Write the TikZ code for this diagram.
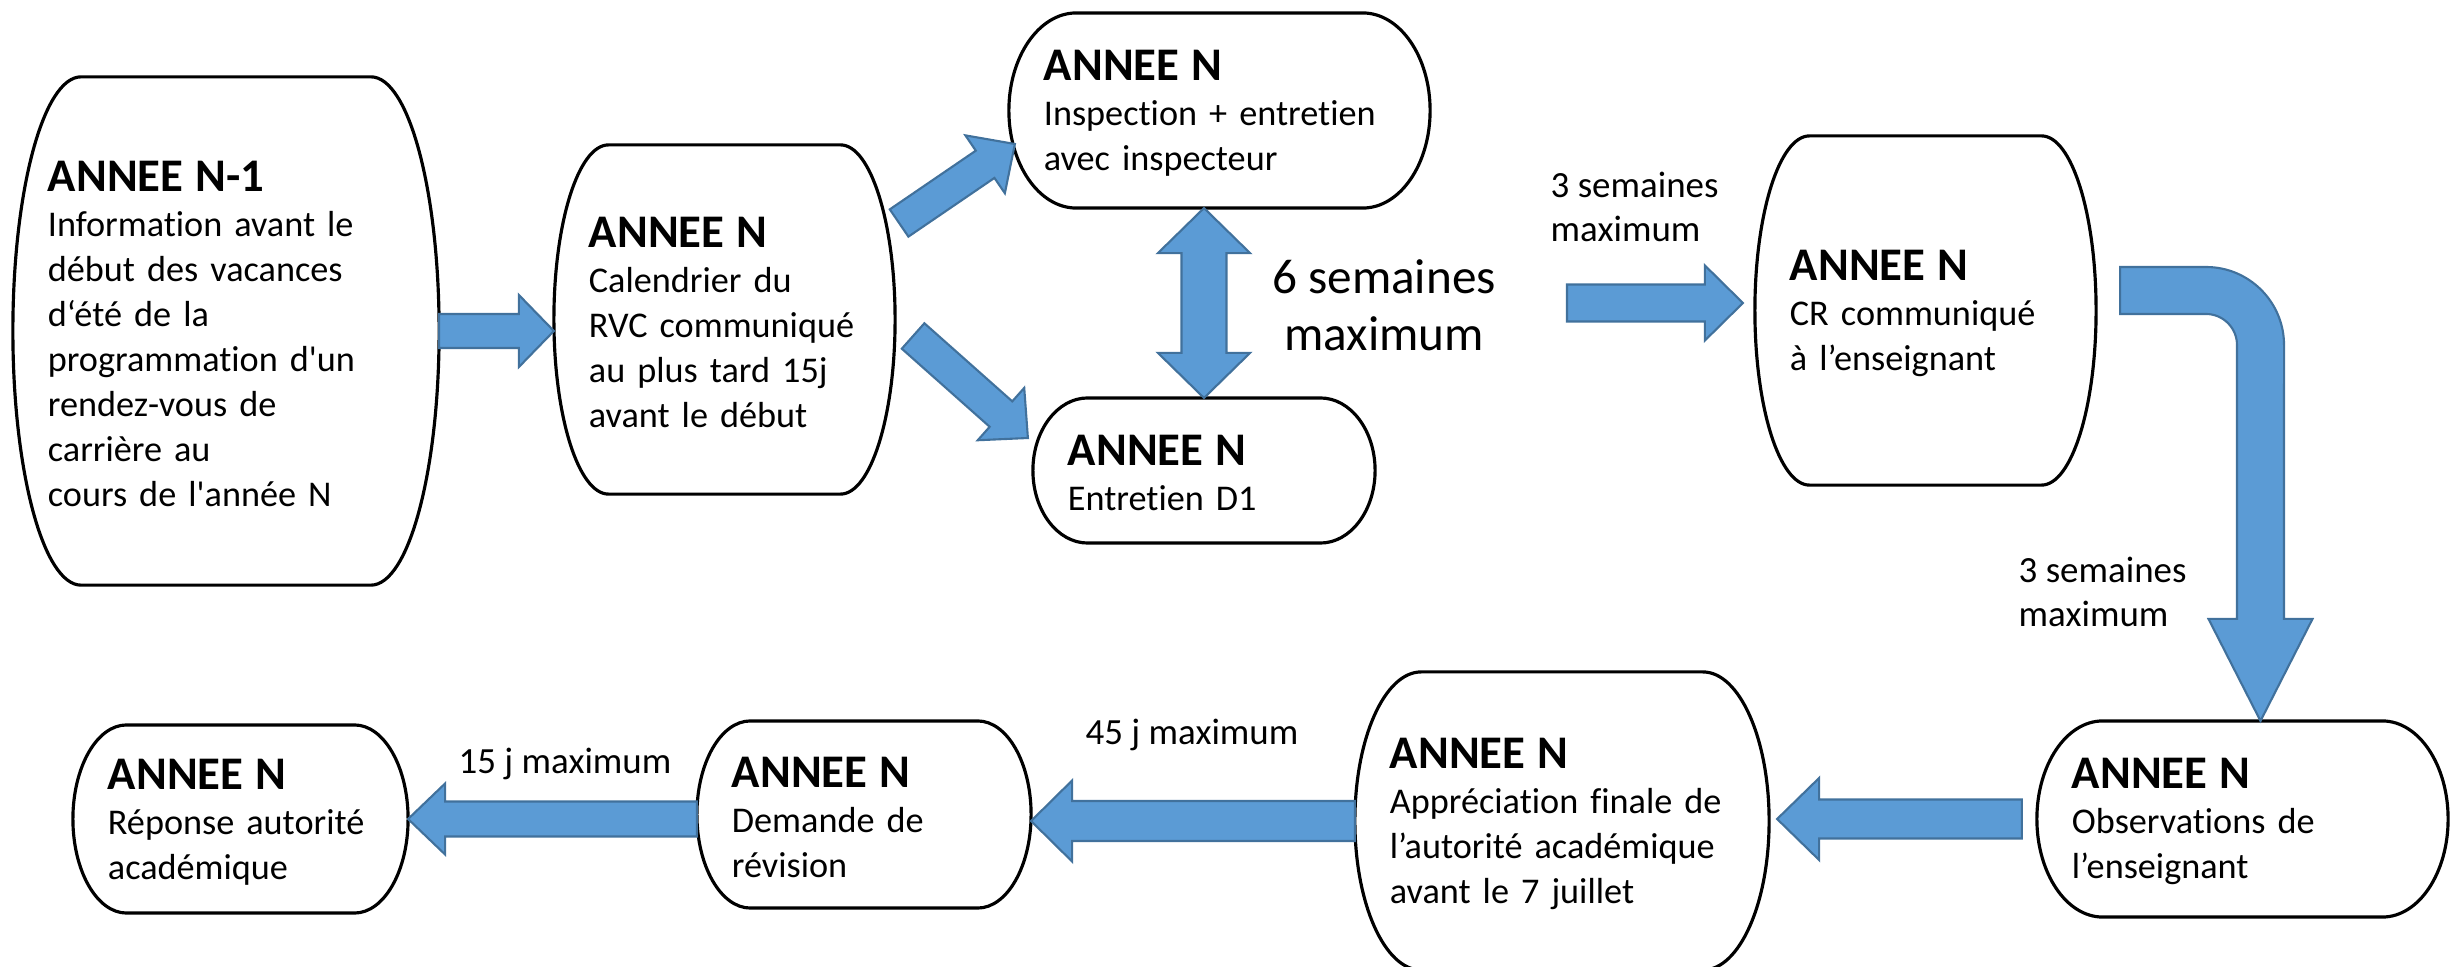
\documentclass[tikz,border=0pt]{standalone}
\usepackage{fontspec}
\setmainfont{Carlito}[Ligatures={TeX,NoCommon}]
\usetikzlibrary{calc}

\definecolor{bleu}{HTML}{5B9BD5}
\definecolor{bleufonce}{HTML}{41719C}

% titre d'une etape
\newcommand{\annee}[1]{{\fontsize{13.3}{15}\selectfont\bfseries\rule{0pt}{0.36cm}#1}}

% fleche pleine : depart, pointe, demi-tige, demi-tete, longueur tete
\newcommand{\blocfleche}[5]{%
  \coordinate (fb) at ($(#2)!#5!(#1)$);
  \draw[bloc] ($(#1)!#3!90:(#2)$) -- ($(fb)!#3!90:(#2)$) -- ($(fb)!#4!90:(#2)$)
    -- (#2) -- ($(fb)!#4!-90:(#2)$) -- ($(fb)!#3!-90:(#2)$) -- ($(#1)!#3!-90:(#2)$) -- cycle;}

% fleche double
\newcommand{\doublefleche}[5]{%
  \coordinate (fa) at ($(#1)!#5!(#2)$);
  \coordinate (fb) at ($(#2)!#5!(#1)$);
  \draw[bloc] (#1) -- ($(fa)!#4!90:(#2)$) -- ($(fa)!#3!90:(#2)$) -- ($(fb)!#3!90:(#2)$)
    -- ($(fb)!#4!90:(#2)$) -- (#2) -- ($(fb)!#4!-90:(#2)$) -- ($(fb)!#3!-90:(#2)$)
    -- ($(fa)!#3!-90:(#2)$) -- ($(fa)!#4!-90:(#2)$) -- cycle;}

\tikzset{
  etape/.style={inner xsep=0.35cm, inner ysep=0pt, outer sep=0pt, align=left,
    font=\fontsize{10.3}{12.8}\selectfont},
  contour/.style={draw=black, line width=0.9pt},
  bloc/.style={fill=bleu, draw=bleufonce, line width=0.6pt},
  delai/.style={inner sep=0pt, align=left, font=\fontsize{10.5}{12.5}\selectfont}
}

\begin{document}
\begin{tikzpicture}[x=0.01cm, y=0.01cm]
  \useasboundingbox (0,0) rectangle (2450,-967);

  % Etapes
  \node[etape, text width=3.56cm, minimum height=5.08cm] (b1) at (226,-331)
    {\annee{ANNEE N-1}\\Information avant le\\début des vacances\\d‘été de la\\programmation d\textquotesingle un\\rendez-vous de\\carrière au\\cours de l\textquotesingle année N};
  \node[etape, text width=2.71cm, minimum height=3.49cm] (b2) at (724.5,-319.5)
    {\annee{ANNEE N}\\Calendrier du\\RVC communiqué\\au plus tard 15j\\avant le début};
  \node[etape, text width=3.51cm, minimum height=1.95cm] (b3) at (1219.5,-110.5)
    {\annee{ANNEE N}\\Inspection + entretien\\avec inspecteur};
  \node[etape, text width=2.72cm, minimum height=1.45cm] (b4) at (1204,-470.5)
    {\annee{ANNEE N}\\Entretien D1};
  \node[etape, text width=2.71cm, minimum height=3.49cm] (b5) at (1925.5,-310.5)
    {\annee{ANNEE N}\\CR communiqué\\à l’enseignant};
  \node[etape, text width=3.41cm, minimum height=1.96cm] (b6) at (2242.5,-819)
    {\annee{ANNEE N}\\Observations de\\l’enseignant};
  \node[etape, text width=3.44cm, minimum height=2.98cm] (b7) at (1562,-821)
    {\annee{ANNEE N}\\Appréciation finale de\\l’autorité académique\\avant le 7 juillet};
  \node[etape, text width=2.64cm, minimum height=1.87cm] (b8) at (864,-814.5)
    {\annee{ANNEE N}\\Demande de\\révision};
  \node[etape, text width=2.65cm, minimum height=1.88cm] (b9) at (240.5,-819)
    {\annee{ANNEE N}\\Réponse autorité\\académique};

  % Contours
  \foreach \nom in {b1,b2,b3,b4,b5,b6,b7,b8,b9}
    \draw[contour] let \p1=(\nom.north west), \p2=(\nom.south east),
      \n1={0.16*(\x2-\x1)}, \n2={(\y1-\y2)/2} in
      ({\x1+\n1*1pt},\y1) -- ({\x2-\n1*1pt},\y1)
      arc[start angle=90, end angle=-90, x radius=\n1*1pt, y radius=\n2*1pt]
      -- ({\x1+\n1*1pt},\y2)
      arc[start angle=270, end angle=90, x radius=\n1*1pt, y radius=\n2*1pt] -- cycle;

  % Delais
  \node[inner sep=0pt, align=center, font=\fontsize{14}{16.2}\selectfont] (l34) at (1384,-305)
    {6 semaines\\maximum};
  \node[delai, anchor=west] (l5) at (1550,-207) {3 semaines\\maximum};
  \node[delai, anchor=west] (l6) at (2018,-592) {3 semaines\\maximum};
  \node[delai, anchor=base west] (l8) at (1085,-745) {45 j maximum};
  \node[delai, anchor=base west] (l9) at (458,-774) {15 j maximum};

  % Extremites des fleches
  \coordinate (d2a) at ($(b2.east)+(4,96.5)$);
  \coordinate (p3) at ($(b3.west)+(6,-33.5)$);
  \coordinate (d2b) at ($(b2.east)+(18,-16.5)$);
  \coordinate (p4) at ($(b4.west)+(-5,32.5)$);
  \coordinate (h4) at (b4.north |- b3.south);
  \coordinate (d5) at (1567,-303);
  \coordinate (p5) at ($(b5.west)+(-12,7.5)$);
  \coordinate (s5) at ($(b5.east)+(24,20)$);
  \coordinate (c6) at ($(b6.north)+(18,0)$);
  \coordinate (d6) at ($(b6.west)+(-15,0)$);
  \coordinate (p7) at ($(b6.west -| b7.east)+(8,0)$);

  % Fleches
  \blocfleche{b1.east}{b1.east -| b2.west}{0.17cm}{0.36cm}{0.35cm}
  \blocfleche{d2a}{p3}{0.165cm}{0.35cm}{0.36cm}
  \blocfleche{d2b}{p4}{0.17cm}{0.35cm}{0.36cm}
  \doublefleche{h4}{b4.north}{0.225cm}{0.46cm}{0.45cm}
  \blocfleche{d5}{p5}{0.185cm}{0.375cm}{0.38cm}
  \draw[bloc] ($(s5)+(0,23.5)$) -- ($(s5 -| c6)+(-54.5,23.5)$)
    arc[start angle=90, end angle=0, radius=0.78cm]
    -- ($(c6)+(23.5,102)$) -- ($(c6)+(52,102)$) -- (c6) -- ($(c6)+(-52,102)$)
    -- ($(c6)+(-23.5,102)$) -- ($(s5 -| c6)+(-23.5,-54.5)$)
    arc[start angle=0, end angle=90, radius=0.31cm]
    -- ($(s5)+(0,-23.5)$) -- cycle;
  \blocfleche{d6}{p7}{0.195cm}{0.41cm}{0.42cm}
  \blocfleche{b7.west}{b7.west -| b8.east}{0.20cm}{0.405cm}{0.41cm}
  \blocfleche{b8.west |- b9.east}{b9.east}{0.175cm}{0.355cm}{0.37cm}
\end{tikzpicture}
\end{document}
